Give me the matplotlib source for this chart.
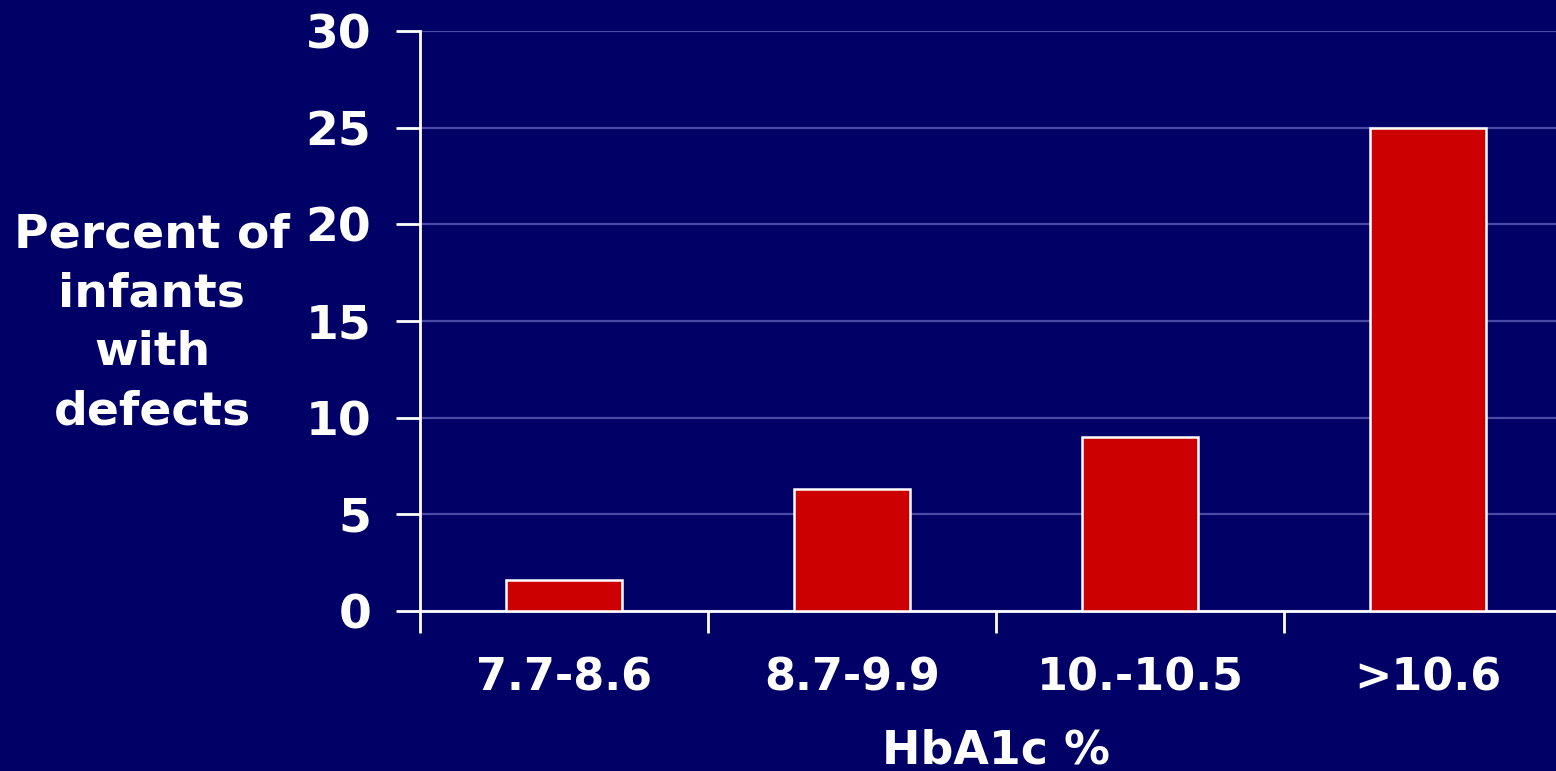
import matplotlib
matplotlib.use('Agg')
import matplotlib.pyplot as plt
import numpy as np

plt.rcParams['font.family'] = ['DejaVu Sans']
plt.rcParams['font.weight'] = 'bold'

BG = '#000066'
BAR = '#CC0000'

categories = ['7.7-8.6', '8.7-9.9', '10.-10.5', '>10.6']
percent_defects = [1.6, 6.3, 9.0, 25.0]
y_ticks = [0, 5, 10, 15, 20, 25, 30]

fig = plt.figure(figsize=(15.56, 7.71), dpi=100, facecolor=BG)
# axes runs a little past the right edge of the figure
ax = fig.add_axes([420/1556, 160/771, 1152/1556, 580/771], facecolor=BG)

x = np.arange(len(categories))
ax.bar(x, percent_defects, width=0.4, color=BAR, edgecolor='white', linewidth=1.8, zorder=3)

ax.set_xlim(-0.5, len(categories) - 0.5)
ax.set_ylim(0, 30)
ax.set_yticks(y_ticks)
# tick marks sit between the groups, labels under the bars
ax.set_xticks(np.arange(len(categories) + 1) - 0.5, minor=False)
ax.set_xticklabels([''] * (len(categories) + 1))
ax.set_xticks(x, minor=True)
ax.set_xticklabels(categories, minor=True)

ax.grid(axis='y', color='#4A4AA6', lw=1.6, zorder=1)
for s in ['top', 'right']:
    ax.spines[s].set_visible(False)
for s in ['left', 'bottom']:
    ax.spines[s].set_color('white')
    ax.spines[s].set_linewidth(2)

ax.tick_params(axis='y', colors='white', labelsize=34, length=17, width=2, pad=18)
ax.tick_params(axis='x', which='major', colors='white', length=16, width=2)
ax.tick_params(axis='x', which='minor', colors='white', labelsize=32, length=0, pad=33)
for lab in ax.get_yticklabels() + ax.get_xticklabels(minor=True):
    lab.set_fontweight('bold')

ax.set_xlabel('HbA1c %', color='white', fontsize=33, fontweight='bold', labelpad=21)

fig.text(152/1556, 1 - 323/771, 'Percent of\ninfants\nwith\ndefects', color='white',
         fontsize=34, fontweight='bold', ha='center', va='center', linespacing=1.4)

plt.savefig('out.png', dpi=100, facecolor=BG)
plt.close()
